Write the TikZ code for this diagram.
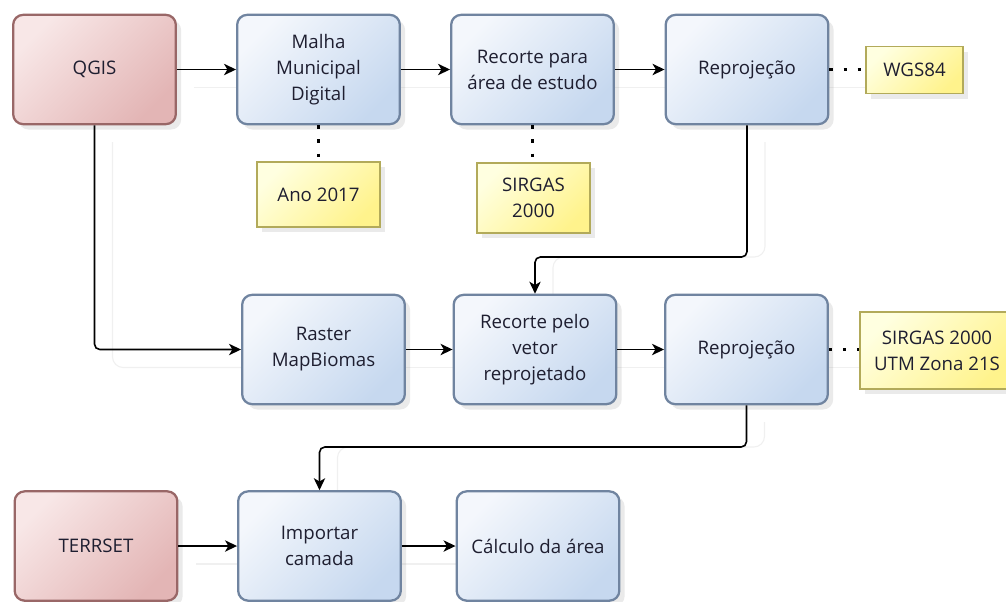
\documentclass[tikz,border=0pt]{standalone}
\usepackage{fontspec}
\setmainfont{Open Sans}
\usetikzlibrary{arrows.meta,shadows}
\definecolor{bluefillA}{HTML}{F4F7FC}
\definecolor{bluefillB}{HTML}{C6D8EF}
\definecolor{blueborder}{HTML}{7084A0}
\definecolor{redfillA}{HTML}{F8E7E7}
\definecolor{redfillB}{HTML}{E3B5B5}
\definecolor{redborder}{HTML}{996767}
\definecolor{yelfillA}{HTML}{FFFFE0}
\definecolor{yelfillB}{HTML}{FFF38C}
\definecolor{yelborder}{HTML}{B2AA5A}
\definecolor{txt}{HTML}{1E1E30}
\begin{document}
\begin{tikzpicture}[x=0.75pt,y=-0.75pt,
  every node/.style={text=txt, font=\fontsize{14}{19.5}\selectfont},
  boxbase/.style={rectangle, rounded corners=7.5pt, line width=1.7pt,
    minimum width=122pt, minimum height=82pt, align=center, inner sep=0pt,
    drop shadow={opacity=0.16, shadow xshift=4pt, shadow yshift=-4pt}},
  procbox/.style={boxbase, draw=blueborder, top color=bluefillA, bottom color=bluefillB, shading angle=45},
  toolbox/.style={boxbase, draw=redborder, top color=redfillA, bottom color=redfillB, shading angle=45},
  notebox/.style={rectangle, line width=1pt, draw=yelborder, top color=yelfillA, bottom color=yelfillB, shading angle=45,
    align=center, inner sep=0pt,
    drop shadow={opacity=0.16, shadow xshift=4pt, shadow yshift=-4pt}},
  arr/.style={-{Stealth[length=9pt,width=8.5pt,inset=2.5pt]}, line width=1.2pt, black},
  dotline/.style={line width=2.4pt, black, dash pattern=on 2.4pt off 8.2pt},
  ghost/.style={line width=0.8pt, black!6, rounded corners=8pt}
]
\useasboundingbox (0,0) rectangle (1006,601);
\fill[white] (0,0) rectangle (1006,601);

% named coordinates for bends
\coordinate (k1) at (0,257);
\coordinate (k2) at (0,447);

% faint connector shadows (drawn first, behind everything)
\begin{scope}[shift={(18,18)}]
\coordinate (g1) at (94.5,124);
\coordinate (g2) at (242,349.5);
\coordinate (g3) at (747,124);
\coordinate (g4) at (535,295);
\coordinate (g5) at (746.5,404);
\coordinate (g6) at (319.5,491);
\coordinate (g7) at (176,69.5);
\coordinate (g8) at (866,69.5);
\coordinate (g9) at (178,546);
\coordinate (g10) at (457,546);
\coordinate (g11) at (242,349.5);
\coordinate (g12) at (860,349.5);
\draw[ghost] (g1) |- (g2);
\draw[ghost] (g3) -- (g3 |- k1) -| (g4);
\draw[ghost] (g5) -- (g5 |- k2) -| (g6);
\draw[ghost] (g7) -- (g8);
\draw[ghost] (g9) -- (g10);
\draw[ghost] (g11) -- (g12);
\end{scope}

% nodes
\node[toolbox] (qgis) at (94.5,69.5) {QGIS};
\node[procbox] (malha) at (318.5,69.5) {Malha\\Municipal\\Digital};
\node[procbox] (recA) at (532.5,69.5) {Recorte para\\área de estudo};
\node[procbox] (repA) at (747,69.5) {Reprojeção};
\node[notebox, minimum width=72.75pt, minimum height=35pt] (wgs) at (914.5,70) {WGS84};
\node[notebox, minimum width=92.25pt, minimum height=48.75pt] (ano) at (318.5,194.5) {Ano 2017};
\node[notebox, minimum width=84.75pt, minimum height=52.5pt] (sirA) at (533.5,198) {SIRGAS\\2000};

\node[procbox] (raster) at (323.5,349.5) {Raster\\MapBiomas};
\node[procbox] (recB) at (535,349.5) {Recorte pelo\\vetor\\reprojetado};
\node[procbox] (repB) at (746.5,349.5) {Reprojeção};
\node[notebox, minimum width=115.5pt, minimum height=57.75pt] (sirB) at (937,350.5) {SIRGAS 2000\\UTM Zona 21S};

\node[toolbox] (terrset) at (96,546) {TERRSET};
\node[procbox] (import) at (319.5,546) {Importar\\camada};
\node[procbox] (calc) at (538,546) {Cálculo da área};

% connectors
\draw[arr] (qgis) -- (malha);
\draw[arr] (malha) -- (recA);
\draw[arr] (recA) -- (repA);
\draw[arr, rounded corners=4pt] (qgis.south) |- (raster.west);
\draw[arr, rounded corners=4pt] (repA.south) -- (repA.south |- k1) -| (recB.north);
\draw[arr] (raster) -- (recB);
\draw[arr] (recB) -- (repB);
\draw[arr, rounded corners=4pt] (repB.south) -- (repB.south |- k2) -| (import.north);
\draw[arr] (terrset) -- (import);
\draw[arr] (import) -- (calc);

% dotted associations
\draw[dotline] (malha.south) -- (malha.south |- ano.north);
\draw[dotline] (recA.south) -- (recA.south |- sirA.north);
\draw[dotline] (repA.east) -- (repA.east -| wgs.west);
\draw[dotline] (repB.east) -- (repB.east -| sirB.west);
\end{tikzpicture}
\end{document}
